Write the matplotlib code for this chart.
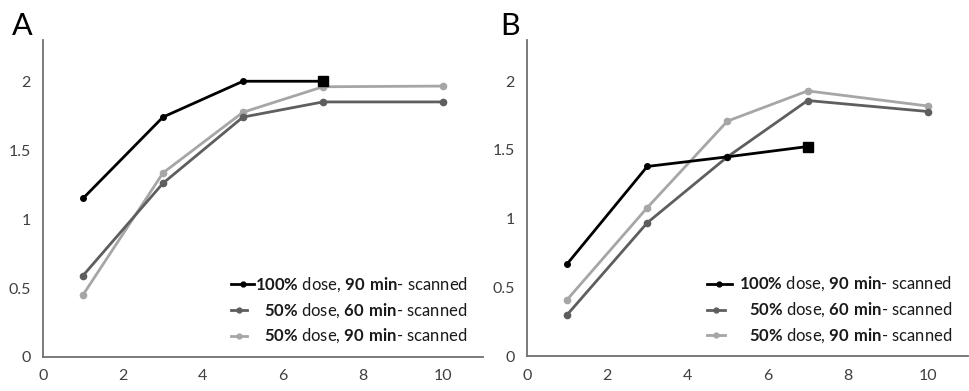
import numpy as np
import matplotlib
matplotlib.use("Agg")
import matplotlib.pyplot as plt

plt.rcParams['font.family'] = ['Lato', 'DejaVu Sans']
plt.rcParams['mathtext.fontset'] = 'custom'
plt.rcParams['mathtext.rm'] = 'Lato'
plt.rcParams['mathtext.bf'] = 'Lato:bold'

# hours after injection (x) and signal (y)
x_full = [1, 3, 5, 7, 10]
x_short = [1, 3, 5, 7]

a_100_90 = [1.15, 1.74, 2.0, 2.0]
a_50_60 = [0.59, 1.26, 1.74, 1.85, 1.85]
a_50_90 = [0.45, 1.335, 1.775, 1.96, 1.965]

b_100_90 = [0.67, 1.38, 1.45, 1.525]
b_50_60 = [0.30, 0.97, 1.45, 1.86, 1.78]
b_50_90 = [0.41, 1.08, 1.71, 1.93, 1.82]

labels = [r"$\mathbf{100\%}$ dose, $\mathbf{90\ min}$- scanned",
          r"$\mathbf{50\%}$ dose, $\mathbf{60\ min}$- scanned",
          r"$\mathbf{50\%}$ dose, $\mathbf{90\ min}$- scanned"]
colors = ['#000000', '#5e5e5e', '#a6a6a6']
xticks = [0, 2, 4, 6, 8, 10]
yticks = [0, 0.5, 1, 1.5, 2]
yticklabels = ['0', '0.5', '1', '1.5', '2']

fig = plt.figure(figsize=(9.7, 3.91), dpi=100)
axA = fig.add_axes([0.0443, 0.087, 0.4536, 0.811])
axB = fig.add_axes([0.5433, 0.0895, 0.4546, 0.808])


def draw(ax, s100, s60, s90, leg_x0, leg_x1):
    ax.plot(x_full, s90, color=colors[2], lw=2, marker='o', ms=4.5, zorder=2)
    ax.plot(x_full, s60, color=colors[1], lw=2, marker='o', ms=4.5, zorder=3)
    ax.plot(x_short, s100, color=colors[0], lw=2, marker='o', ms=4, zorder=4)
    ax.plot(x_short[-1:], s100[-1:], color=colors[0], marker='s', ms=7.5,
            ls='none', zorder=5)
    ax.set_xlim(0, 11)
    ax.set_ylim(0, 2.3)
    ax.set_xticks(xticks)
    ax.set_yticks(yticks)
    ax.set_yticklabels(yticklabels)
    ax.tick_params(length=0, labelsize=11.5, labelcolor='#404040')
    ax.tick_params(axis='y', pad=9)
    ax.tick_params(axis='x', pad=9)
    for s in ['top', 'right']:
        ax.spines[s].set_visible(False)
    for s in ['left', 'bottom']:
        ax.spines[s].set_color('#707070')
        ax.spines[s].set_linewidth(1.3)
    # legend drawn by hand so the text lines up on the right
    ys = [0.229, 0.147, 0.066]
    ends = [leg_x1, leg_x1 - 0.017, leg_x1 - 0.017]
    for i in range(3):
        ax.plot([leg_x0, ends[i]], [ys[i], ys[i]], color=colors[i], lw=2,
                transform=ax.transAxes, clip_on=False)
        ax.plot([(leg_x0 + ends[i]) / 2], [ys[i]], color=colors[i],
                marker='o', ms=3.5, transform=ax.transAxes, clip_on=False)
        ax.text(0.965, ys[i], labels[i], transform=ax.transAxes, fontsize=12,
                ha='right', va='center', color='#1a1a1a')


draw(axA, a_100_90, a_50_60, a_50_90, 0.427, 0.48)
draw(axB, b_100_90, b_50_60, b_50_90, 0.408, 0.465)

fig.text(0.012, 0.91, 'A', fontsize=22, ha='left', va='baseline')
fig.text(0.516, 0.91, 'B', fontsize=22, ha='left', va='baseline')

fig.savefig('out.png', dpi=100)
